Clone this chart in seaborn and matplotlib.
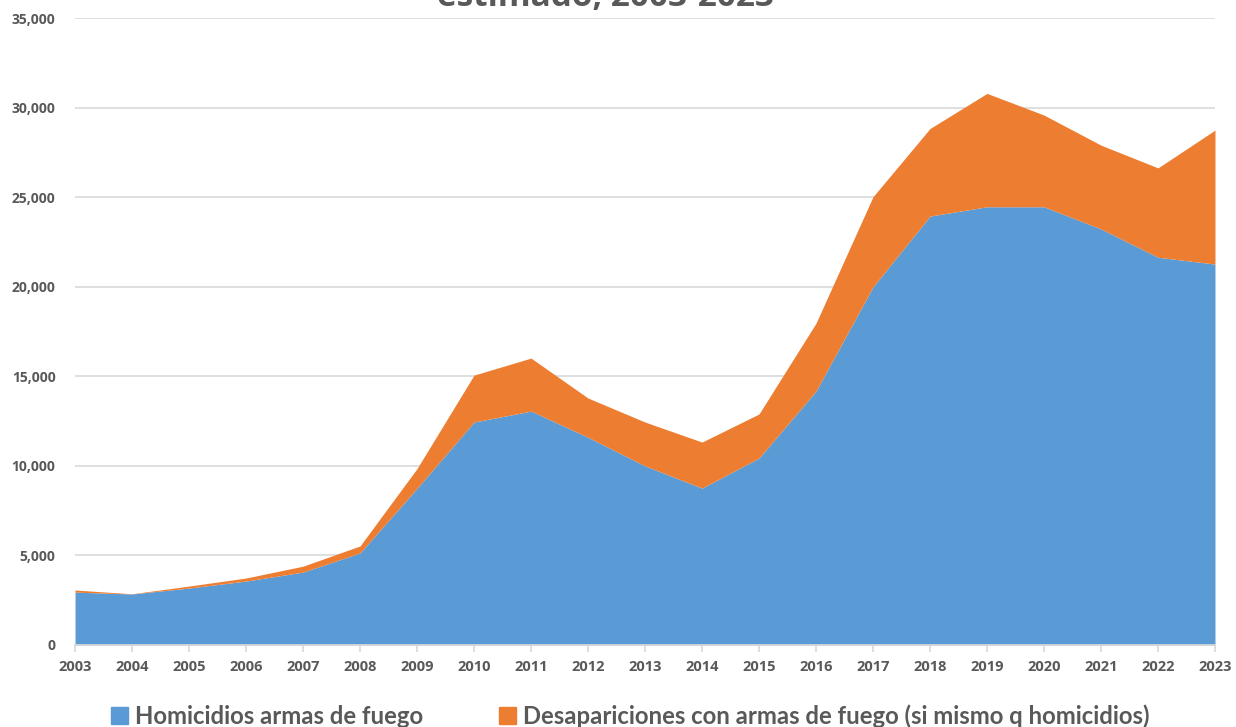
import matplotlib

matplotlib.use("Agg")
import matplotlib.pyplot as plt
import seaborn as sns
from matplotlib.patches import Patch
from matplotlib.ticker import FuncFormatter

years = list(range(2003, 2024))
homicidios = [2950, 2850, 3180, 3570, 4070, 5140, 8750, 12450, 13060, 11600, 10000,
              8760, 10440, 14180, 20000, 23950, 24470, 24470, 23230, 21650, 21270]
total_top = [3070, 2860, 3290, 3740, 4400, 5530, 9850, 15070, 16020, 13790, 12450,
             11330, 12900, 17970, 25030, 28840, 30800, 29590, 27910, 26640, 28750]
desapariciones = [t - h for t, h in zip(total_top, homicidios)]
series_labels = ["Homicidios armas de fuego",
                 "Desapariciones con armas de fuego (si mismo q homicidios)"]
colors = ["#5B9BD5", "#ED7D31"]

sns.set_theme(style="whitegrid")
plt.rcParams["font.family"] = ["Open Sans", "DejaVu Sans"]

fig = plt.figure(figsize=(12.36, 7.27), dpi=100)
ax = fig.add_axes([0.0607, 0.1128, 0.9223, 0.8622])

ax.stackplot(years, homicidios, desapariciones, colors=colors, linewidth=0)

ax.set_xlim(2003, 2023)
ax.set_ylim(0, 35000)
ax.set_yticks(range(0, 35001, 5000))
ax.yaxis.set_major_formatter(FuncFormatter(lambda v, _: f"{int(v):,}"))
ax.set_xticks(years)
ax.grid(axis="x", visible=False)
ax.grid(axis="y", color="#d9d9d9", lw=1.2)
ax.set_facecolor("white")
for s in ["top", "right", "left"]:
    ax.spines[s].set_visible(False)
ax.spines["bottom"].set_color("#d9d9d9")
ax.tick_params(axis="x", length=5, color="#d9d9d9", bottom=True, pad=6,
               labelsize=10.5, labelcolor="#595959")
ax.tick_params(axis="y", length=0, pad=14, labelsize=10, labelcolor="#595959")
for lab in ax.get_xticklabels() + ax.get_yticklabels():
    lab.set_fontweight("bold")

# title is cut off at the top of the original image
fig.text(0.49, 1.004, "estimado, 2003-2023", ha="center", va="center",
         fontsize=24, fontweight="bold", color="#595959")

handles = [Patch(color=c) for c in colors]
leg = fig.legend(handles, series_labels, loc="center", bbox_to_anchor=(0.51, 0.015),
                 ncol=2, frameon=False, handlelength=0.7, handleheight=0.7,
                 handletextpad=0.3, columnspacing=3.2,
                 prop={"family": "Lato", "weight": "bold", "size": 17.2})
for t in leg.get_texts():
    t.set_color("#595959")

fig.savefig("out.png", dpi=100)
